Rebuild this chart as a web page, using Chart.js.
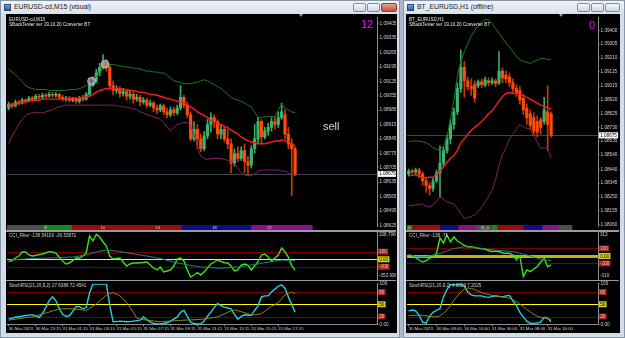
<!DOCTYPE html>
<html><head><meta charset="utf-8">
<script src="https://cdn.jsdelivr.net/npm/chart.js@4.4.1/dist/chart.umd.min.js"></script>
<style>
html,body{margin:0;padding:0}
body{width:625px;height:338px;position:relative;overflow:hidden;background:#a9b8cb;font-family:'Liberation Sans',Arial,sans-serif}
.abs{position:absolute}
.win{position:absolute;top:0;height:338px;background:#d3dde9;box-sizing:border-box;border:1px solid #8696aa}
.tbar{position:absolute;left:0;top:0;right:0;height:13px;background:linear-gradient(#f1f4f8,#d8e0ea)}
.ttl{position:absolute;top:3px;font-size:6.8px;color:#1b1b1b;white-space:nowrap;line-height:1}
.btn{position:absolute;top:2px;height:9px;border:1px solid #7d8ea3;border-radius:2px;background:linear-gradient(#f6f8fb,#ccd6e2);box-sizing:border-box}
.blk{position:absolute;background:#000}
.txt{position:absolute;white-space:nowrap;color:#e8e8e8;font-size:9.2px;line-height:1;transform:scale(0.5);transform-origin:0 0}
.sep{position:absolute;background:#7c7c7c}
canvas{position:absolute}
</style></head><body>

<div class="win" style="left:0;width:400px">
  <div class="tbar"></div>
  <div class="abs" style="left:3px;top:3px;width:7px;height:7px;background:linear-gradient(#6fa0d8,#2f5f9c);border:1px solid #2a4a74;box-sizing:border-box"></div>
  <div class="ttl" style="left:13px">EURUSD-cd,M15 (visual)</div>
  <div class="btn" style="left:352px;width:13px"></div>
  <div class="btn" style="left:366px;width:13px"></div>
  <div class="btn" style="left:380px;width:16px;background:linear-gradient(#e9a495,#c5503f);border-color:#8a3a30"></div>
</div>
<div class="win" style="left:403px;width:222px">
  <div class="tbar"></div>
  <div class="abs" style="left:3px;top:3px;width:7px;height:7px;background:linear-gradient(#6fa0d8,#2f5f9c);border:1px solid #2a4a74;box-sizing:border-box"></div>
  <div class="ttl" style="left:13px">BT_EURUSD,H1 (offline)</div>
  <div class="btn" style="left:173px;width:13px"></div>
  <div class="btn" style="left:187px;width:13px"></div>
  <div class="btn" style="left:201px;width:15px"></div>
</div>
<div class="blk" style="left:6px;top:14px;width:391px;height:319px"></div>
<div class="blk" style="left:406px;top:14px;width:214px;height:319px"></div>

<script>
// ================= DATA =================
// ---- Left window: EURUSD-cd, M15 ----
const leftTimeTickIdx = [0, 8, 16, 24, 32, 40, 48, 56, 64, 72, 80];
const leftTimeLabels = ['30 Mar 2023', '30 Mar 23:15', '31 Mar 01:15', '31 Mar 03:15', '31 Mar 05:15', '31 Mar 07:15',
  '31 Mar 09:15', '31 Mar 11:15', '31 Mar 13:15', '31 Mar 15:15', '31 Mar 17:15'];
const leftPriceTicks = [1.08425, 1.08495, 1.08565, 1.08635, 1.08705, 1.08775, 1.08845, 1.08915, 1.08985,
  1.09055, 1.09125, 1.09195, 1.09265, 1.09335, 1.09405];
const leftPriceLabels = ['1.08425', '1.08495', '1.08565', '1.08635', '1.08705', '1.08775', '1.08845', '1.08915', '1.08985',
  '1.09055', '1.09125', '1.09195', '1.09265', '1.09335', '1.09405'];

const leftOpen = [1.08995,1.09014,1.09005,1.09024,1.09019,1.09033,1.09028,1.09042,1.09038,1.09052,
 1.09047,1.09057,1.09052,1.09061,1.09057,1.09061,1.09047,1.09038,1.09042,1.09033,
 1.09038,1.09028,1.09042,1.09038,1.09061,1.09108,1.09127,1.09165,1.09193,1.09212,
 1.09193,1.09104,1.09080,1.09090,1.09066,1.09075,1.09052,1.09061,1.09038,1.09047,
 1.09024,1.09033,1.09009,1.09019,1.08995,1.08986,1.09005,1.08976,1.08962,1.08986,
 1.08972,1.08995,1.09047,1.09009,1.08962,1.08845,1.08892,1.08845,1.08797,1.08859,
 1.08915,1.08948,1.08929,1.08868,1.08892,1.08845,1.08821,1.08727,1.08774,1.08750,
 1.08788,1.08736,1.08717,1.08797,1.08845,1.08929,1.08854,1.08882,1.08901,1.08929,
 1.08915,1.08948,1.08962,1.08868,1.08821,1.08797];
const leftHigh = [1.09024,1.09019,1.09033,1.09033,1.09042,1.09038,1.09052,1.09052,1.09061,1.09061,
 1.09066,1.09066,1.09071,1.09071,1.09071,1.09066,1.09057,1.09052,1.09052,1.09047,
 1.09047,1.09052,1.09057,1.09071,1.09127,1.09146,1.09184,1.09212,1.09254,1.09231,
 1.09207,1.09127,1.09104,1.09099,1.09090,1.09085,1.09080,1.09071,1.09061,1.09057,
 1.09047,1.09042,1.09033,1.09028,1.09009,1.09014,1.09014,1.08995,1.09000,1.09000,
 1.09009,1.09104,1.09057,1.09024,1.08976,1.08929,1.08915,1.08868,1.08882,1.08939,
 1.08972,1.08962,1.08939,1.08915,1.08906,1.08892,1.08845,1.08797,1.08807,1.08807,
 1.08821,1.08760,1.08812,1.08915,1.08948,1.08939,1.08901,1.08920,1.08948,1.08953,
 1.08976,1.09019,1.08986,1.08901,1.08845,1.08807];
const leftLow = [1.08986,1.08995,1.09000,1.09009,1.09014,1.09019,1.09024,1.09028,1.09033,1.09038,
 1.09038,1.09042,1.09047,1.09047,1.09047,1.09038,1.09028,1.09028,1.09024,1.09024,
 1.09019,1.09019,1.09028,1.09033,1.09052,1.09099,1.09118,1.09151,1.09184,1.09174,
 1.09090,1.09057,1.09066,1.09047,1.09052,1.09033,1.09038,1.09019,1.09028,1.09005,
 1.09014,1.08995,1.09000,1.08976,1.08967,1.08976,1.08962,1.08948,1.08953,1.08958,
 1.08962,1.08986,1.08995,1.08948,1.08835,1.08835,1.08797,1.08783,1.08788,1.08845,
 1.08878,1.08901,1.08845,1.08845,1.08830,1.08797,1.08680,1.08713,1.08736,1.08741,
 1.08680,1.08666,1.08703,1.08774,1.08821,1.08821,1.08845,1.08863,1.08882,1.08892,
 1.08901,1.08939,1.08845,1.08797,1.08571,1.08666];
const leftClose = [1.09014,1.09005,1.09024,1.09019,1.09033,1.09028,1.09042,1.09038,1.09052,1.09047,
 1.09057,1.09052,1.09061,1.09057,1.09061,1.09047,1.09038,1.09042,1.09033,1.09038,
 1.09028,1.09042,1.09038,1.09061,1.09108,1.09127,1.09165,1.09193,1.09212,1.09193,
 1.09104,1.09080,1.09090,1.09066,1.09075,1.09052,1.09061,1.09038,1.09047,1.09024,
 1.09033,1.09009,1.09019,1.08995,1.08986,1.09005,1.08976,1.08962,1.08986,1.08972,
 1.08995,1.09047,1.09009,1.08962,1.08845,1.08892,1.08845,1.08797,1.08859,1.08915,
 1.08948,1.08929,1.08868,1.08892,1.08845,1.08821,1.08727,1.08774,1.08750,1.08788,
 1.08736,1.08717,1.08797,1.08845,1.08929,1.08854,1.08882,1.08901,1.08929,1.08915,
 1.08948,1.08976,1.08868,1.08821,1.08797,1.08675];
const leftMA = [1.09009,1.09014,1.09014,1.09019,1.09024,1.09024,1.09028,1.09033,1.09033,1.09033,
 1.09038,1.09038,1.09038,1.09038,1.09038,1.09038,1.09038,1.09038,1.09042,1.09042,
 1.09042,1.09042,1.09047,1.09047,1.09052,1.09061,1.09071,1.09080,1.09085,1.09090,
 1.09090,1.09090,1.09090,1.09090,1.09085,1.09085,1.09080,1.09080,1.09075,1.09071,
 1.09071,1.09066,1.09061,1.09061,1.09057,1.09052,1.09047,1.09042,1.09038,1.09033,
 1.09028,1.09024,1.09019,1.09009,1.09000,1.08991,1.08976,1.08967,1.08958,1.08948,
 1.08934,1.08929,1.08920,1.08915,1.08906,1.08901,1.08887,1.08878,1.08868,1.08854,
 1.08845,1.08835,1.08830,1.08826,1.08821,1.08821,1.08821,1.08826,1.08830,1.08835,
 1.08835,1.08840,1.08835,1.08830,1.08821,1.08812];
const leftUpper = [1.09184,1.09170,1.09155,1.09141,1.09123,1.09104,1.09094,1.09090,1.09085,1.09085,
 1.09085,1.09085,1.09080,1.09080,1.09080,1.09080,1.09080,1.09080,1.09085,1.09085,
 1.09085,1.09090,1.09094,1.09104,1.09113,1.09127,1.09146,1.09165,1.09188,1.09207,
 1.09207,1.09207,1.09203,1.09198,1.09198,1.09193,1.09193,1.09188,1.09188,1.09184,
 1.09179,1.09174,1.09174,1.09170,1.09170,1.09165,1.09165,1.09155,1.09141,1.09127,
 1.09123,1.09118,1.09113,1.09113,1.09113,1.09118,1.09118,1.09127,1.09132,1.09127,
 1.09118,1.09108,1.09099,1.09090,1.09075,1.09061,1.09047,1.09038,1.09033,1.09028,
 1.09019,1.09009,1.09000,1.08976,1.08948,1.08948,1.08953,1.08953,1.08953,1.08953,
 1.08986,1.09014,1.08995,1.08986,1.08976,1.08972];
const leftLower = [1.08821,1.08859,1.08887,1.08915,1.08939,1.08958,1.08967,1.08972,1.08972,1.08972,
 1.08972,1.08976,1.08981,1.08986,1.08995,1.09000,1.09005,1.09009,1.09009,1.09009,
 1.09009,1.09009,1.09009,1.09009,1.09009,1.09009,1.09009,1.09009,1.09009,1.09009,
 1.09009,1.09009,1.09005,1.09005,1.09000,1.09000,1.08995,1.08991,1.08986,1.08976,
 1.08972,1.08962,1.08958,1.08953,1.08948,1.08939,1.08925,1.08901,1.08887,1.08901,
 1.08915,1.08920,1.08925,1.08925,1.08906,1.08868,1.08807,1.08760,1.08750,1.08745,
 1.08750,1.08750,1.08750,1.08750,1.08745,1.08741,1.08736,1.08722,1.08703,1.08680,
 1.08670,1.08666,1.08666,1.08675,1.08689,1.08694,1.08694,1.08694,1.08694,1.08694,
 1.08694,1.08689,1.08689,1.08680,1.08670,1.08666];
const leftTradeIdx = [24.6, 28.6];
const leftTradePrice = [1.09125, 1.09208];

const leftCCI = [-31.6,-15.8,17.1,43.4,96.0,96.0,56.6,43.4,50.0,63.2,
 69.7,82.9,100.0,96.0,82.9,30.3,-22.4,-61.8,-48.7,-18.4,
 17.1,17.1,43.4,82.9,306.6,240.8,328.8,293.3,227.5,174.9,
 43.4,3.9,10.5,17.1,-35.5,-88.2,-61.8,-48.7,-48.7,-44.7,
 -42.1,-35.5,-75.0,-114.5,-140.8,-101.3,-167.1,-153.9,-140.8,-88.2,
 3.9,17.1,-22.4,-140.8,-232.9,-206.6,-176.3,-206.6,-167.1,-114.5,
 -61.8,-35.5,-9.2,-28.9,-44.7,-48.7,-88.2,-154.0,-140.8,-75.0,
 -61.8,-75.0,-140.8,-88.2,-31.6,56.6,69.7,30.3,-22.4,17.1,
 56.6,148.7,96.0,30.3,-88.2,-140.8];
const leftCCISignal = [-9.2,-6.6,-3.9,-1.3,1.3,3.9,7.9,10.5,11.8,13.2,
 14.5,15.8,17.1,19.7,21.1,22.4,25.0,26.3,28.9,30.3,
 36.8,43.4,50.0,56.6,69.7,82.9,96.0,109.2,115.8,122.4,
 118.4,113.1,109.2,101.3,93.4,85.5,78.9,72.4,64.5,56.6,
 50.0,43.4,35.5,26.3,18.4,10.5,-1.3,-13.2,-25.0,-36.8,
 -48.7,-56.6,-63.2,-71.1,-78.9,-86.8,-93.4,-101.3,-103.9,-106.6,
 -110.5,-113.1,-115.8,-118.4,-114.5,-111.8,-107.9,-103.9,-101.3,-97.4,
 -89.5,-82.9,-75.0,-67.1,-60.5,-52.6,-46.1,-38.2,-31.6,-23.7,
 -17.1,-9.2,-11.8,-14.5,-15.8,-18.4];
const leftStoch = [13.5,15.9,18.2,19.4,20.6,22.5,23.5,24.6,21.8,17.5,
 27.0,41.9,58.5,68.0,58.5,39.6,25.4,20.6,21.8,32.5,
 44.3,44.3,38.9,42.0,77.5,99.5,99.5,99.5,99.5,99.5,
 46.7,7.1,7.6,8.8,8.1,7.1,7.6,8.8,9.9,11.1,
 19.0,12.3,6.4,3.3,2.4,1.7,2.8,4.7,8.8,13.5,
 19.0,30.1,34.8,20.6,6.4,2.8,1.7,1.7,8.8,20.6,
 30.8,41.9,52.1,46.7,43.1,40.8,38.9,25.4,13.5,20.6,
 24.2,23.0,23.0,34.8,46.7,68.0,70.4,70.4,79.9,87.0,
 94.1,97.7,89.4,68.0,49.1,30.8];
const leftStochSignal = [11.1,12.3,13.5,14.7,15.9,17.1,18.2,19.0,21.3,23.7,
 26.1,28.4,30.8,33.4,36.0,38.6,38.9,38.9,38.9,38.9,
 37.9,37.0,36.0,34.8,39.6,45.5,50.7,58.5,65.6,72.8,
 76.3,78.2,75.1,70.4,63.3,53.8,42.7,30.1,15.9,13.5,
 12.3,11.1,10.2,9.2,8.1,7.1,7.6,8.3,8.8,9.5,
 9.9,10.4,11.1,11.4,11.8,12.1,12.6,12.8,14.0,15.4,
 16.6,17.8,19.0,22.8,26.3,30.1,33.9,36.5,34.1,31.8,
 29.2,26.8,23.9,24.2,25.4,27.0,32.5,38.9,44.3,49.1,
 54.5,63.3,72.8,76.3,79.9,75.1];
const leftCCIRangeLabels = ['328.79600', '-352.99800'];
const leftStripStart = [-0.5, 10.1, 18.6, 51.3, 71.9];
const leftStripEnd = [10.1, 18.6, 51.3, 71.9, 90.1];
const leftStripKind = ['gray', 'green', 'red', 'blue', 'purple'];
const leftStripText = ['8', '10', '14', '18', '22'];
const leftStripTextAt = [10.5, 27.1, 43.4, 60.3, 76.6];

// ---- Right window: BT_EURUSD, H1 ----
const rightTimeTickIdx = [0, 8, 16, 24, 32, 40];
const rightTimeLabels = ['30 Mar 2023', '30 Mar 08:00', '30 Mar 16:00', '31 Mar 00:00', '31 Mar 08:00', '31 Mar 16:00'];
const rightPriceTicks = [1.08060, 1.08155, 1.08250, 1.08345, 1.08440, 1.08540, 1.08635, 1.08730, 1.08825,
  1.08920, 1.09015, 1.09115, 1.09210, 1.09305, 1.09400];
const rightPriceLabels = ['1.08060', '1.08155', '1.08250', '1.08345', '1.08440', '1.08540', '1.08635', '1.08730', '1.08825',
  '1.08920', '1.09015', '1.09115', '1.09210', '1.09305', '1.09400'];
const rightOpen = [1.08408,1.08428,1.08422,1.08435,1.08408,1.08361,1.08328,1.08308,1.08361,1.08415,
 1.08482,1.08569,1.08650,1.08750,1.08837,1.08998,1.09145,1.09052,1.09011,1.09025,
 1.09018,1.09045,1.09025,1.09052,1.09038,1.09052,1.09038,1.09119,1.09092,1.09078,
 1.09038,1.08998,1.08985,1.08931,1.08864,1.08824,1.08797,1.08770,1.08784,1.08770,
 1.08837,1.08824];
const rightHigh = [1.08442,1.08442,1.08449,1.08449,1.08422,1.08382,1.08348,1.08382,1.08435,1.08603,
 1.08596,1.08676,1.08784,1.08864,1.09038,1.09266,1.09186,1.09078,1.09065,1.09052,
 1.09058,1.09065,1.09078,1.09072,1.09072,1.09065,1.09253,1.09139,1.09119,1.09105,
 1.09065,1.09025,1.09011,1.08958,1.08891,1.08851,1.08830,1.08810,1.08797,1.08938,
 1.09018,1.08837];
const rightLow = [1.08395,1.08408,1.08408,1.08382,1.08328,1.08281,1.08261,1.08288,1.08348,1.08248,
 1.08462,1.08549,1.08616,1.08717,1.08817,1.08971,1.08938,1.08985,1.08951,1.08904,
 1.09005,1.09005,1.09011,1.09018,1.09025,1.09011,1.09025,1.09038,1.09038,1.09011,
 1.08971,1.08944,1.08891,1.08817,1.08750,1.08717,1.08676,1.08663,1.08683,1.08750,
 1.08569,1.08663];
const rightClose = [1.08428,1.08422,1.08435,1.08408,1.08361,1.08328,1.08308,1.08361,1.08415,1.08482,
 1.08569,1.08650,1.08750,1.08837,1.08998,1.09145,1.09052,1.09011,1.08998,1.08931,
 1.09045,1.09025,1.09058,1.09038,1.09052,1.09032,1.09119,1.09072,1.09065,1.09038,
 1.08998,1.08971,1.08918,1.08851,1.08797,1.08743,1.08703,1.08697,1.08730,1.08851,
 1.08750,1.08676];
const rightMA = [1.08395,1.08398,1.08402,1.08392,1.08382,1.08382,1.08385,1.08388,1.08402,1.08428,
 1.08455,1.08489,1.08516,1.08536,1.08569,1.08623,1.08650,1.08683,1.08710,1.08730,
 1.08750,1.08770,1.08797,1.08824,1.08844,1.08877,1.08911,1.08944,1.08964,1.08971,
 1.08964,1.08964,1.08958,1.08951,1.08938,1.08924,1.08911,1.08898,1.08884,1.08877,
 1.08864,1.08857];
const rightUpper = [1.08630,1.08636,1.08636,1.08633,1.08630,1.08623,1.08609,1.08589,1.08576,1.08576,
 1.08596,1.08663,1.08784,1.08918,1.09085,1.09186,1.09253,1.09306,1.09360,1.09400,
 1.09434,1.09460,1.09474,1.09474,1.09447,1.09413,1.09380,1.09346,1.09313,1.09286,
 1.09253,1.09219,1.09199,1.09186,1.09179,1.09172,1.09186,1.09192,1.09206,1.09206,
 1.09199,1.09199];
const rightLower = [1.08187,1.08191,1.08194,1.08197,1.08201,1.08187,1.08181,1.08194,1.08221,1.08248,
 1.08234,1.08214,1.08207,1.08201,1.08167,1.08134,1.08100,1.08107,1.08114,1.08127,
 1.08147,1.08181,1.08214,1.08254,1.08295,1.08368,1.08469,1.08542,1.08589,1.08650,
 1.08683,1.08717,1.08750,1.08737,1.08723,1.08717,1.08670,1.08630,1.08583,1.08589,
 1.08583,1.08516];
const rightCCI = [13.3,0,-20.0,-53.3,-80.0,-66.7,-26.7,-9.3,40.0,240.0,
 173.3,280.0,186.7,253.3,200.0,173.3,140.0,124.0,124.0,113.3,
 102.6,96.0,89.3,73.3,57.3,66.7,60.0,40.0,36.0,36.0,
 13.3,-53.3,0,-276.0,-186.7,-209.3,-173.3,-142.6,-80.0,-33.3,
 -142.6,-120.0];
const rightCCISignal = [20.0,6.7,-6.7,-9.3,-9.3,-9.3,0,10.7,20.0,33.3,
 49.3,66.7,82.6,100.0,106.6,114.6,122.6,120.0,114.6,110.6,
 106.6,100.0,93.3,87.9,84.0,78.6,74.6,70.6,66.7,62.6,
 58.6,49.3,37.3,25.3,13.3,0,-14.7,-29.3,-42.6,-48.0,
 -54.6,-61.3];
const rightStoch = [33.7,35.8,33.7,23.0,6.4,4.0,20.6,30.1,34.8,39.6,
 68.0,86.1,98.0,98.0,98.0,98.0,94.3,80.1,73.0,70.4,
 70.4,70.4,68.0,66.8,69.2,70.4,69.2,68.0,70.4,71.6,
 58.5,46.7,30.1,19.2,8.8,3.3,3.3,4.0,6.4,18.2,
 15.9,7.1];
const rightStochSignal = [23.0,23.0,23.0,23.0,23.0,21.8,20.6,19.4,19.4,21.8,
 27.7,36.0,46.7,59.7,70.4,79.9,87.0,90.1,88.2,86.3,
 82.2,78.7,75.8,73.9,71.6,70.4,69.2,68.0,66.8,64.4,
 60.9,56.6,50.2,43.8,37.2,31.3,25.4,20.6,18.2,17.1,
 15.4,12.3];
const rightCCIRangeLabels = ['313', '-310'];
const rightStripStart = [-0.5, 0.9, 9.0, 14.2, 19.4, 24.0, 25.4, 32.9, 38.4, 43.0];
const rightStripEnd = [0.9, 9.0, 14.2, 19.4, 24.0, 25.4, 32.9, 38.4, 43.0, 47.0];
const rightStripKind = ['green', 'red', 'blue', 'purple', 'gray', 'green', 'red', 'blue', 'purple', 'gray'];
const rightStripText = ['0', '31_0'];
const rightStripTextAt = [-0.3, 20.5];

// ---- shared ----
const lastPrice = 1.08675;
const lastPriceLabel = '1.08675';
const cciLevels = [100, 0, -100];
const cciLevelLabels = ['100', '0.00', '-100'];
const stochLevels = [80, 50, 20];
const stochLevelLabels = ['80', '50', '20'];
const stochEdgeTicks = [0, 100];
const stochEdgeLabels = ['0.00', '100'];

// ================= STYLE / LAYOUT =================
const C = {
  up: '#3cb371', upWick: '#37a866', dn: '#ff4a0a', dnWick: '#c63a08',
  ma: '#ff1a1a', upper: '#1d7a1d', lower: '#86205f',
  cci: '#3ee01c', cciSig: '#168a8a', st: '#1fd3e6', stSig: '#8c8a1e',
  axis: '#8c8c8c', text: '#d2d2d2', lvlRed: '#7d0000', yellow: '#ffff00',
  strip: { gray: '#4e4e4e', green: '#168a16', red: '#990c0c', blue: '#0d0d8a', purple: '#891289' }
};
Chart.defaults.font.family = "'Liberation Sans', Arial, sans-serif";

function cv(left, top, w, h) {
  const c = document.createElement('canvas');
  c.width = w; c.height = h;
  c.style.left = left + 'px'; c.style.top = top + 'px';
  c.style.width = w + 'px'; c.style.height = h + 'px';
  document.body.appendChild(c);
  return c;
}
const pts = arr => arr.map((v, i) => ({ x: i, y: v }));
function lineDS(arr, color, w) {
  return { type: 'line', data: pts(arr), borderColor: color, borderWidth: w, pointRadius: 0, tension: 0, fill: false, order: 1 };
}
function candleDS(o, h, l, c) {
  const isUp = i => c[i] >= o[i];
  return [
    { type: 'bar', data: o.map((_, i) => ({ x: i, y: [l[i], h[i]] })), backgroundColor: o.map((_, i) => isUp(i) ? C.upWick : C.dnWick),
      barThickness: 1, grouped: false, borderWidth: 0, order: 3 },
    { type: 'bar', data: o.map((_, i) => ({ x: i, y: [o[i], c[i]] })), backgroundColor: o.map((_, i) => isUp(i) ? C.up : C.dn),
      barThickness: 2.5, grouped: false, borderWidth: 0, minBarLength: 1, order: 2 }
  ];
}
function xAxis(max, idx, labels) {
  if (!idx) return { type: 'linear', min: -0.5, max, display: false, offset: false };
  return {
    type: 'linear', min: -0.5, max, offset: false, position: 'bottom',
    afterFit(s) { s.height = 8.3; },
    afterBuildTicks(s) { s.ticks = idx.map(v => ({ value: v })); },
    ticks: { autoSkip: false, maxRotation: 0, minRotation: 0, align: 'start', color: C.text, font: { size: 4.3 }, padding: 0,
      callback: (v, i) => labels[i] },
    grid: { drawOnChartArea: false, tickLength: 1.5, color: C.axis, offset: false },
    border: { color: C.axis }
  };
}
function yAxis(w, min, max, vals, labels) {
  const show = !!vals;
  const ax = {
    type: 'linear', position: 'right', min, max,
    afterFit(s) { s.width = w; },
    ticks: { display: show, autoSkip: false, color: C.text, font: { size: 4.7 }, padding: 1, callback: (v, i) => labels ? labels[i] : '' },
    grid: { display: show, drawOnChartArea: false, tickLength: 1.5, color: C.axis },
    border: { display: true, color: C.axis }
  };
  if (show) ax.afterBuildTicks = s => { s.ticks = vals.map(v => ({ value: v })); };
  return ax;
}
const panePlugin = {
  id: 'pane',
  beforeDatasetsDraw(chart, args, o) {
    const { ctx, chartArea: a } = chart, y = chart.scales.y;
    (o.lines || []).forEach(l => {
      const w = l.width || 1;
      const py = Math.round(y.getPixelForValue(l.value)) + (w % 2 ? 0.5 : 0);
      ctx.save(); ctx.beginPath(); ctx.strokeStyle = l.color; ctx.lineWidth = w;
      ctx.moveTo(a.left, py); ctx.lineTo(a.right, py); ctx.stroke(); ctx.restore();
    });
  },
  afterDraw(chart, args, o) {
    const { ctx, chartArea: a } = chart, y = chart.scales.y;
    ctx.save(); ctx.font = "4.6px 'Liberation Sans', Arial"; ctx.textBaseline = 'middle'; ctx.textAlign = 'left';
    (o.lines || []).forEach(l => {
      if (!l.text) return;
      const py = y.getPixelForValue(l.value);
      const w = ctx.measureText(l.text).width + 2.5;
      ctx.fillStyle = l.box; ctx.fillRect(a.right + 1, py - 3, w, 6);
      ctx.fillStyle = l.tc; ctx.fillText(l.text, a.right + 2.2, py + 0.3);
    });
    (o.edges || []).forEach(e => {
      ctx.fillStyle = C.text;
      ctx.fillText(e.text, a.right + 2, e.top ? a.top + 3 : a.bottom - 3);
    });
    ctx.restore();
  }
};
const stripPlugin = {
  id: 'stripText',
  afterDatasetsDraw(chart, args, o) {
    const { ctx, chartArea: a } = chart, x = chart.scales.x;
    ctx.save(); ctx.font = "4px 'Liberation Sans', Arial"; ctx.fillStyle = '#e8d0d0'; ctx.textBaseline = 'middle'; ctx.textAlign = 'left';
    o.text.forEach((t, k) => ctx.fillText(t, x.getPixelForValue(o.at[k]) + 0.5, (a.top + a.bottom) / 2 + 0.3));
    ctx.restore();
  }
};
const base = { responsive: false, animation: false, devicePixelRatio: 1, events: [],
  plugins: { legend: { display: false }, tooltip: { enabled: false } } };
function opts(extra) {
  return Object.assign({}, base, extra, { plugins: Object.assign({}, base.plugins, extra.plugins || {}) });
}
function lvl(values, labels, kinds, zeroW, zeroColor) {
  return values.map((v, k) => kinds[k] === 'y'
    ? { value: v, color: zeroColor || C.yellow, width: zeroW || 1, text: labels[k], box: '#d6d600', tc: '#000' }
    : { value: v, color: C.lvlRed, width: 1, text: labels[k], box: '#a41f1f', tc: '#f4c4c4' });
}

// ================= BUILD A WINDOW =================
function buildWindow(P) {
  const L = P.left, W = P.width, AX = P.axisW, XM = P.xMax;
  new Chart(cv(L, 14, W, 216), {
    type: 'bar',
    data: { datasets: [
      ...candleDS(P.o, P.h, P.l, P.c),
      lineDS(P.upper, C.upper, 1), lineDS(P.lower, C.lower, 1), lineDS(P.ma, C.ma, 1.4),
      ...(P.tradeIdx ? [
        { type: 'line', data: P.tradeIdx.map((x, k) => ({ x, y: P.tradePrice[k] })), showLine: false, pointRadius: 4,
          pointBackgroundColor: 'rgba(165,165,165,0.8)', pointBorderColor: '#cfcfcf', pointBorderWidth: 0.7, order: 0 },
        { type: 'line', data: P.tradeIdx.map((x, k) => ({ x, y: P.tradePrice[k] })), showLine: false, pointRadius: 1.2,
          pointBackgroundColor: ['#2f4dff', '#ff6a1a'], pointBorderWidth: 0, order: -1 }] : [])
    ] },
    options: opts({
      layout: { padding: { left: 1, top: 1, right: 0, bottom: 0 }, autoPadding: false },
      scales: { x: xAxis(XM), y: yAxis(AX, P.pMin, P.pMax, P.pTicks, P.pLabels) },
      plugins: { pane: { lines: [{ value: lastPrice, color: '#3b4652', width: 1, text: lastPriceLabel, box: '#ffffff', tc: '#000' }] } }
    }),
    plugins: [panePlugin]
  });
  new Chart(cv(L, 225, W, 5), {
    type: 'bar',
    data: { labels: ['s'], datasets: P.sStart.map((s, k) => ({ data: [[s, P.sEnd[k]]], backgroundColor: C.strip[P.sKind[k]],
      barPercentage: 1, categoryPercentage: 1, grouped: false, borderWidth: 0 })) },
    options: opts({
      indexAxis: 'y',
      layout: { padding: { left: 1 }, autoPadding: false },
      scales: { x: { type: 'linear', min: -0.5, max: XM, display: false },
        y: { position: 'right', afterFit(s) { s.width = AX; }, ticks: { display: false }, grid: { display: false }, border: { display: false } } },
      plugins: { stripText: { text: P.sText, at: P.sTextAt } }
    }),
    plugins: [stripPlugin]
  });
  new Chart(cv(L, 231, W, 49), {
    type: 'line',
    data: { datasets: [lineDS(P.cciSig, C.cciSig, 1), lineDS(P.cci, C.cci, 1.4)] },
    options: opts({
      layout: { padding: { left: 1, top: 1, right: 0, bottom: 1 }, autoPadding: false },
      scales: { x: xAxis(XM), y: yAxis(AX, P.cMin, P.cMax) },
      plugins: { pane: { lines: lvl(cciLevels, cciLevelLabels, ['r', 'y', 'r'], P.zeroW, P.zeroColor),
        edges: [{ text: P.cRange[0], top: true }, { text: P.cRange[1], top: false }] } }
    }),
    plugins: [panePlugin]
  });
  new Chart(cv(L, 280, W, 53), {
    type: 'line',
    data: { datasets: [lineDS(P.stSig, C.stSig, 1), lineDS(P.st, C.st, 1.4)] },
    options: opts({
      layout: { padding: { left: 1, top: 2.5, right: 0, bottom: 0 }, autoPadding: false },
      scales: { x: xAxis(XM, P.tIdx, P.tLabels), y: yAxis(AX, 0, 100, stochEdgeTicks, stochEdgeLabels) },
      plugins: { pane: { lines: lvl(stochLevels, stochLevelLabels, ['r', 'y', 'r']) } }
    }),
    plugins: [panePlugin]
  });
}

buildWindow({ left: 6, width: 390, axisW: 19, xMax: 109.3,
  o: leftOpen, h: leftHigh, l: leftLow, c: leftClose, ma: leftMA, upper: leftUpper, lower: leftLower,
  tradeIdx: leftTradeIdx, tradePrice: leftTradePrice,
  pMin: 1.08421, pMax: 1.09433, pTicks: leftPriceTicks, pLabels: leftPriceLabels,
  sStart: leftStripStart, sEnd: leftStripEnd, sKind: leftStripKind, sText: leftStripText, sTextAt: leftStripTextAt,
  cci: leftCCI, cciSig: leftCCISignal, cMin: -259, cMax: 359, cRange: leftCCIRangeLabels,
  st: leftStoch, stSig: leftStochSignal, tIdx: leftTimeTickIdx, tLabels: leftTimeLabels });

buildWindow({ left: 406, width: 213, axisW: 21, xMax: 54.5,
  o: rightOpen, h: rightHigh, l: rightLow, c: rightClose, ma: rightMA, upper: rightUpper, lower: rightLower,
  pMin: 1.08047, pMax: 1.09487, pTicks: rightPriceTicks, pLabels: rightPriceLabels,
  sStart: rightStripStart, sEnd: rightStripEnd, sKind: rightStripKind, sText: rightStripText, sTextAt: rightStripTextAt,
  cci: rightCCI, cciSig: rightCCISignal, cMin: -307, cMax: 320, cRange: rightCCIRangeLabels, zeroW: 3, zeroColor: '#b8b800',
  st: rightStoch, stSig: rightStochSignal, tIdx: rightTimeTickIdx, tLabels: rightTimeLabels });

// ================= TEXT OVERLAYS & SEPARATORS =================
function div(cls, style, text) {
  const d = document.createElement('div'); d.className = cls; d.style.cssText = style; if (text) d.textContent = text;
  document.body.appendChild(d); return d;
}
[[6, 390], [406, 213]].forEach(([x, w]) => {
  div('sep', `left:${x}px;top:230px;width:${w}px;height:1.5px;background:#9a9a9a`);
  div('sep', `left:${x}px;top:279.5px;width:${w}px;height:1.5px;background:#9a9a9a`);
});
div('txt', 'left:9px;top:16.5px', 'EURUSD-cd,M15');
div('txt', 'left:9px;top:22px', 'SBackTester    ver 19.10.20    Converter    BT');
div('txt', 'left:409px;top:16.5px', 'BT_EURUSD,H1');
div('txt', 'left:409px;top:22px', 'SBackTester    ver 19.10.20    Converter    BT');
div('txt', 'left:9px;top:233px;color:#cfcfcf', 'CCI_Filter -138.54160 -26.53872');
div('txt', 'left:9px;top:283px;color:#cfcfcf', 'StochRSI(21,26,9,2) 27.6388 72.4541');
div('txt', 'left:409px;top:233px;color:#cfcfcf', 'CCI_Filter -138 -71');
div('txt', 'left:409px;top:283px;color:#cfcfcf', 'StochRSI(21,26,9,2) 4.0859 7.2025');
div('abs', 'left:361px;top:19px;font-size:11px;line-height:1;color:#ff00ff', '12');
div('abs', 'left:589px;top:19.5px;font-size:11px;line-height:1;color:#ff00ff', '0');
div('abs', 'left:323px;top:121px;font-size:11px;line-height:1;color:#d6d6d6', 'sell');
div('abs', 'left:299px;top:14px;width:0;height:0;border-left:2px solid transparent;border-right:2px solid transparent;border-top:3px solid #9a9a9a', '');
div('abs', 'left:559px;top:14px;width:0;height:0;border-left:2px solid transparent;border-right:2px solid transparent;border-top:3px solid #9a9a9a', '');
</script>
</body></html>
